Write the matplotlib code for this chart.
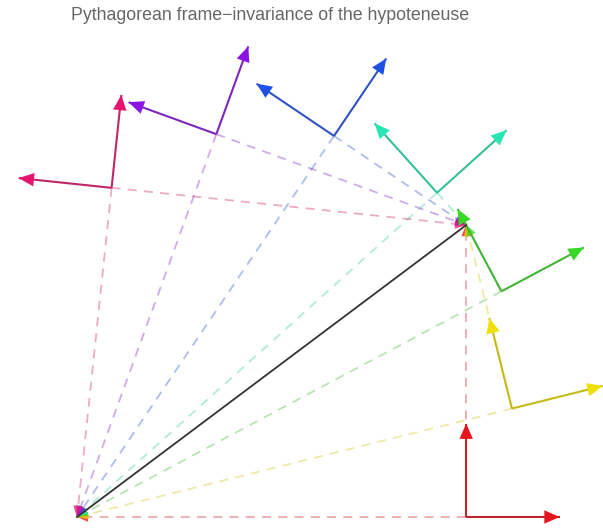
import numpy as np
import matplotlib
matplotlib.use('Agg')
import matplotlib.pyplot as plt
import matplotlib.colors as mc

# ---- data ----
hyp_x, hyp_y = 4.0, 3.0                      # hypotenuse vector (3-4-5 triangle)
frame_angles_deg = [0, 14, 28, 42, 56, 70, 84]  # rotation of each frame
frame_colors = ['#e8141c', '#f0e000', '#3ad826', '#28e6b4',
                '#1e50e6', '#8c14e2', '#e6146e']
basis_len = 0.96
title = 'Pythagorean frame\u2212invariance of the hypoteneuse'

# ---- figure ----
W, H = 603, 531
fig = plt.figure(figsize=(W / 100, H / 100), dpi=100)
ax = fig.add_axes([0, 0, 1, 1])
s = 97.3          # pixels per unit
ox, oy = 77, 517  # origin position in pixels (from top-left)
ax.set_xlim(-ox / s, (W - ox) / s)
ax.set_ylim(-(H - oy) / s, oy / s)
ax.axis('off')


def head(p_to, direction, color, ms, z, alpha=1.0):
    d = np.asarray(direction, float)
    d = d / np.linalg.norm(d)
    p_to = np.asarray(p_to, float)
    p_from = p_to - 0.15 * d
    ax.annotate('', xy=tuple(p_to), xytext=tuple(p_from),
                arrowprops=dict(arrowstyle='-|>,head_length=0.5,head_width=0.22',
                                color=color, lw=0, alpha=alpha,
                                mutation_scale=ms, shrinkA=0, shrinkB=0),
                zorder=z)


def darken(c, f=0.72):
    r, g, b = mc.to_rgb(c)
    gray = 0.35
    return (r * f + gray * (1 - f), g * f + gray * (1 - f), b * f + gray * (1 - f))


v = np.array([hyp_x, hyp_y])
origin = np.array([0.0, 0.0])

for ang, col in zip(frame_angles_deg, frame_colors):
    th = np.radians(ang)
    e1 = np.array([np.cos(th), np.sin(th)])
    e2 = np.array([-np.sin(th), np.cos(th)])
    a1 = v @ e1
    corner = a1 * e1
    # dashed component arrows: corner -> origin, corner -> tip
    for end in (origin, v):
        ax.plot([corner[0], end[0]], [corner[1], end[1]], color=darken(col, 0.8),
                alpha=0.38, lw=1.3, dashes=(5, 4), zorder=1)
        d = end - corner
        if np.linalg.norm(d) > 1e-6:
            head(end, d, col, 16, 2, alpha=0.75)
    # frame basis arrows
    for e in (e1, e2):
        tip = corner + basis_len * e
        ax.plot([corner[0], tip[0]], [corner[1], tip[1]], color=darken(col),
                lw=1.5, zorder=3, solid_capstyle='butt')
        head(tip, e, col, 22, 4)

ax.plot([0, v[0]], [0, v[1]], color='#333333', lw=1.3, zorder=5)

fig.text(270 / W, 1 - 16 / H, title, ha='center', va='center',
         fontsize=12.8, color='#666666', family='Liberation Sans')

fig.savefig('out.png', dpi=100, facecolor='white')
